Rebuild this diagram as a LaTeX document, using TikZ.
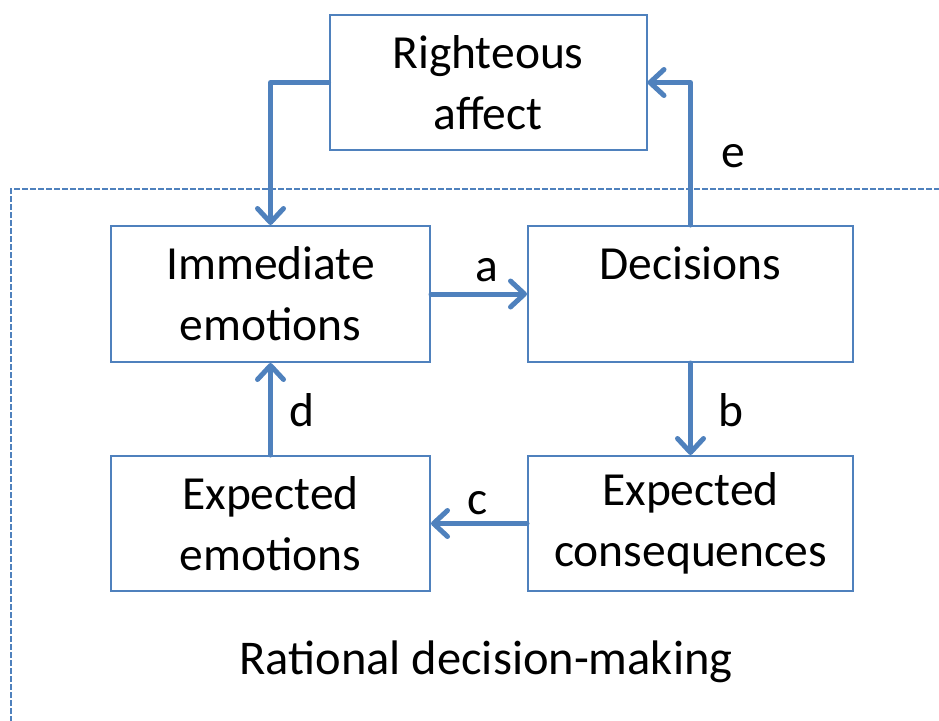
\documentclass[tikz,border=0pt]{standalone}
\usepackage{fontspec}
\setmainfont{Carlito}
\usetikzlibrary{arrows.meta}
\definecolor{bl}{RGB}{79,129,189}
\tikzset{
  box/.style={draw=bl, line width=2pt, minimum width=319pt, minimum height=136pt,
    align=center, font=\fontsize{47.5}{61}\selectfont, inner sep=0pt},
  arr/.style={draw=bl, line width=5pt, line cap=round, line join=round,
    -{Straight Barb[length=14pt,width=26pt,line width=5pt,round]}},
  lbl/.style={font=\fontsize{47.5}{58}\selectfont, inner sep=0pt},
}
\begin{document}
\begin{tikzpicture}[x=1pt,y=-1pt]
\useasboundingbox (0,0) rectangle (939,720);
\draw[bl, line width=2pt, dash pattern=on 6pt off 2pt] (11,730) -- (11,189) -- (945,189);
\node[box, minimum width=317pt, minimum height=135pt] (ra) at (488,82.5) {Righteous\\affect};
\node[box] (ie) at (270.5,294) {Immediate\\emotions};
\node[box, minimum width=325pt] (dec) at (690.5,294) {Decisions\\[0pt]\phantom{x}};
\node[box, minimum height=135pt] (ee) at (270.5,523.5) {Expected\\emotions};
\node[box, minimum width=325pt, minimum height=135pt] (ec) at (690.5,523.5) {Expected\\consequences};
\draw[arr] (ra.west) -| (ie.north);
\draw[arr] (dec.north) |- (ra.east);
\draw[arr] (ie.east) -- (dec.west);
\draw[arr] (dec.south) -- (ec.north);
\draw[arr] (ec.west) -- (ee.east);
\draw[arr] (ee.north) -- (ie.south);
\node[lbl] (la) at (487,270) {a};
\node[lbl] (lb) at (731,410) {b};
\node[lbl] (lc) at (478,503) {c};
\node[lbl] (ld) at (302,410) {d};
\node[lbl] (le) at (733,156) {e};
\node[lbl, font=\fontsize{48.5}{58}\selectfont] (rdm) at (486,662) {Rational decision-making};
\end{tikzpicture}
\end{document}
